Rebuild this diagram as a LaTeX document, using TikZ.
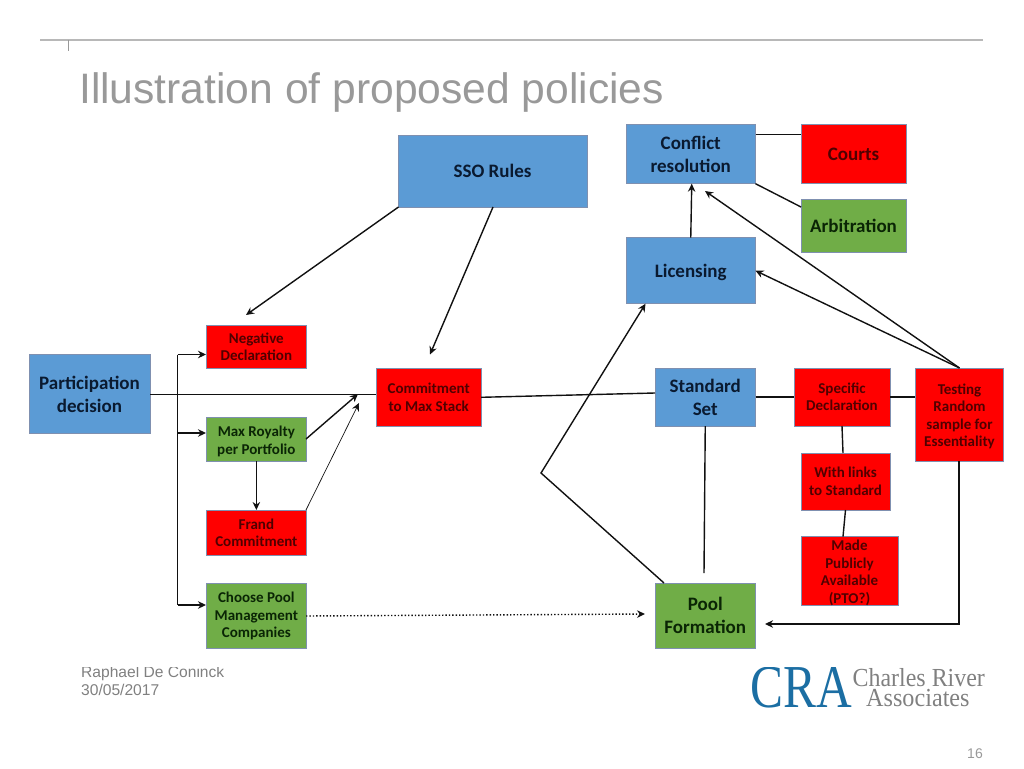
\documentclass[tikz,border=0pt]{standalone}
\usepackage{fontspec}
\setmainfont{Carlito}
\newfontfamily\arialf{Liberation Sans}
\newfontfamily\timesf{Liberation Serif}
\usetikzlibrary{arrows.meta,calc}
\definecolor{bluebox}{HTML}{5B9BD5}
\definecolor{greenbox}{HTML}{70AD47}
\definecolor{redbox}{HTML}{FF0000}
\definecolor{edgebox}{HTML}{7F90B0}
\definecolor{inkline}{HTML}{111111}
\definecolor{titlegrey}{HTML}{999999}
\definecolor{cradark}{HTML}{1B6EA3}
\definecolor{cragrey}{HTML}{808080}
\definecolor{inkblue}{HTML}{0A1A30}
\definecolor{inkgreen}{HTML}{0A2505}
\definecolor{inkred}{HTML}{500000}
\tikzset{
  boxbase/.style={draw=edgebox,line width=0.6pt,inner sep=0pt,outer sep=0pt,align=center},
  bigtxt/.style={font=\fontsize{19}{23}\selectfont\bfseries},
  smalltxt/.style={font=\fontsize{15}{17.5}\selectfont\bfseries},
  bluefill/.style={boxbase,fill=bluebox,text=inkblue,bigtxt},
  greenfill/.style={boxbase,fill=greenbox,text=inkgreen},
  redfill/.style={boxbase,fill=redbox,text=inkred},
  link/.style={draw=inkline,line width=1.4pt},
  thinlink/.style={draw=inkline,line width=0.7pt},
  arrow/.style={-{Stealth[length=8pt,width=7.5pt]}},
  footer/.style={inner sep=0pt,anchor=base west,text=cragrey,font=\arialf\fontsize{15.6}{17}\selectfont},
}
\newcommand{\bx}[7]{\node[#6,minimum width={(#4-#2)*1pt},minimum height={(#5-#3)*1pt}] (#1) at ({(#2+#4)/2},{(#3+#5)/2}) {#7};}
\newcommand{\lowtop}[1]{\rule{0pt}{#1pt}}
\begin{document}
\begin{tikzpicture}[x=1pt,y=-1pt]
\useasboundingbox (0,0) rectangle (1024,768);
% header
\coordinate (rulel) at (40,40);
\coordinate (ruler) at (983,40);
\coordinate (tickb) at (68,51);
\coordinate (tickt) at (68,40);
\draw[color=black!28,line width=1.2pt] (rulel) -- (ruler);
\draw[color=black!40,line width=0.8pt] (tickt) -- (tickb);
\node[inner sep=0pt,anchor=base west,text=titlegrey,font=\arialf\fontsize{42.6}{46}\selectfont] (title) at (79,103) {Illustration of proposed policies};
% footer text and logo (cropped at the top by the slide)
\node[footer] (author) at (81,677) {Raphael De Coninck};
\node[footer] (date) at (81,695) {30/05/2017};
\node[inner sep=0pt,anchor=base west,text=cradark,font=\timesf\fontsize{61}{61}\selectfont] (cra) at (750,707) {\scalebox{0.81}[1]{CRA}};
\node[inner sep=0pt,anchor=base west,align=left,text=cragrey,font=\timesf\fontsize{26}{20.5}\selectfont] (charles) at (852.5,706.5) {\scalebox{0.92}[1]{Charles River}\\\hspace*{13.5pt}\scalebox{0.93}[1]{Associates}};
\fill[white] (70,652) rectangle (1000,666.5);
\node[inner sep=0pt,anchor=base west,text=black!40,font=\arialf\fontsize{14}{17}\selectfont] (pagenum) at (967,758) {16};
% boxes
\bx{sso}{398}{135}{587}{207}{bluefill}{SSO Rules}
\bx{conflict}{626}{124.5}{755.5}{183.7}{bluefill}{Conflict\\resolution}
\bx{courts}{801}{124.5}{906}{183.7}{redfill,bigtxt}{Courts}
\bx{arb}{801}{199}{906}{252.7}{greenfill,bigtxt}{Arbitration}
\bx{lic}{626}{237.7}{755.5}{303.7}{bluefill}{\lowtop{17}Licensing}
\bx{part}{29}{354.7}{150}{433.7}{bluefill}{Participation\\decision}
\bx{neg}{206.7}{325.3}{306}{368.3}{redfill,smalltxt}{Negative\\Declaration}
\bx{maxr}{206.7}{417.7}{306}{461.3}{greenfill,smalltxt}{\lowtop{14}Max Royalty\\per Portfolio}
\bx{frand}{206.7}{510}{306}{555.7}{redfill,smalltxt}{Frand\\Commitment}
\bx{choose}{206.7}{583.3}{306}{648.7}{greenfill,smalltxt}{Choose Pool\\Management\\Companies}
\bx{commit}{376.3}{368.3}{481}{426.3}{redfill,smalltxt}{Commitment\\to Max Stack}
\bx{std}{655}{368}{755.5}{426}{bluefill}{Standard\\Set}
\bx{spec}{794}{368}{890}{426}{redfill,smalltxt}{Specific\\Declaration}
\bx{test}{915.3}{368}{1003.7}{461}{redfill,smalltxt}{\lowtop{14}Testing\\Random\\sample for\\Essentiality}
\bx{links}{801}{453}{890}{510}{redfill,smalltxt}{With links\\to Standard}
\bx{made}{801}{537}{898}{605}{redfill,smalltxt}{\lowtop{14}Made\\Publicly\\Available\\(PTO?)}
\bx{pool}{655}{583}{755.5}{648.7}{greenfill,bigtxt}{Pool\\Formation}
% free ends and bends
\coordinate (ssoA) at (398.5,207);
\coordinate (ssoB) at (493,207);
\coordinate (negEnd) at (246,315);
\coordinate (comEnd) at (430,354.5);
\coordinate (busT) at (177.5,354.5);
\coordinate (busM) at (177.5,433);
\coordinate (busB) at (177.5,605);
\coordinate (tipN) at (206,354.5);
\coordinate (tipM) at (206,433);
\coordinate (tipC) at (206,605);
\coordinate (maxEnd) at (358,394);
\coordinate (frandEnd) at (359,403);
\coordinate (dotEnd) at (645,614);
\coordinate (bend) at (541,473);
\coordinate (poolEnd) at (765,624);
\coordinate (testCorner) at (959,624);
\coordinate (confEnd) at (705,191);
\coordinate (stdEnd) at (704,573);
% connectors
\draw[link,arrow] (ssoA) -- (negEnd);
\draw[link,arrow] (ssoB) -- (comEnd);
\draw[link] (part.east) -- (part.east -| commit.west);
\draw[link] (busT) -- (busB);
\draw[link,arrow] (busT) -- (tipN);
\draw[link,arrow] (busM) -- (tipM);
\draw[link,arrow] (busB) -- (tipC);
\draw[link,arrow] ($(maxr.north east)+(0,21.3)$) -- (maxEnd);
\draw[thinlink,arrow] (frand.north east) -- (frandEnd);
\draw[link,arrow] (maxr.south) -- (frand.north);
\draw[link] (commit.east) -- ($(std.west)+(0,-4)$);
\draw[link] (std.east) -- (spec.west);
\draw[link] (spec.east) -- (test.west |- spec.east);
\draw[link] (std.south) -- (stdEnd);
\draw[link,arrow] ($(pool.north west)+(9,0)$) -- (bend) -- ($(lic.south west)+(19.5,0)$);
\draw[link,arrow] (lic.north) -- ($(conflict.south)+(1,0)$);
\draw[link,arrow] (test.north) -- (confEnd);
\draw[link,arrow] (test.north) -- (lic.east);
\draw[link] ($(conflict.north east)+(0,10)$) -- ($(courts.north west)+(0,10)$);
\draw[link] (conflict.south east) -- ($(arb.north west)+(0,8)$);
\draw[link] (spec.south) -- ($(links.north)+(-2.5,0)$);
\draw[link] (links.south) -- ($(made.north)+(-6.5,0)$);
\draw[link,arrow] (test.south -| testCorner) -- (testCorner) -- (poolEnd);
\draw[link,dotted,arrow] (choose.east) -- (dotEnd);
\end{tikzpicture}
\end{document}
